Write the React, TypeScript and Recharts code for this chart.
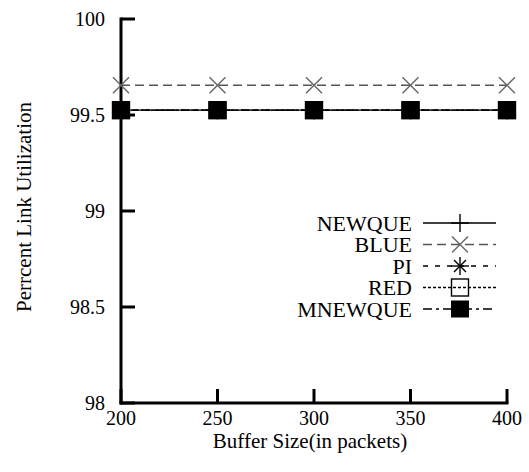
import { LineChart, Line, XAxis, YAxis, Legend, Label } from "recharts"

const bufferSizes = [200, 250, 300, 350, 400]
const newque = [99.525, 99.525, 99.525, 99.525, 99.525]
const blue = [99.655, 99.655, 99.655, 99.655, 99.655]
const pi = [99.525, 99.525, 99.525, 99.525, 99.525]
const red = [99.525, 99.525, 99.525, 99.525, 99.525]
const mnewque = [99.525, 99.525, 99.525, 99.525, 99.525]
const xTicks = [200, 250, 300, 350, 400]
const yTicks = [98, 98.5, 99, 99.5, 100]

const data = bufferSizes.map((b, i) => ({
  buffer: b,
  NEWQUE: newque[i],
  BLUE: blue[i],
  PI: pi[i],
  RED: red[i],
  MNEWQUE: mnewque[i],
}))

const FONT = "Liberation Serif"

type Kind = "plus" | "x" | "star" | "square" | "filled"

function Marker({ kind, cx, cy }: { kind: Kind; cx: number; cy: number }) {
  const h = 9
  const d = 8
  if (kind === "plus")
    return (
      <g stroke="#000" strokeWidth={1.4}>
        <line x1={cx - h} y1={cy} x2={cx + h} y2={cy} />
        <line x1={cx} y1={cy - h} x2={cx} y2={cy + h} />
      </g>
    )
  if (kind === "x")
    return (
      <g stroke="#666" strokeWidth={1.5}>
        <line x1={cx - d} y1={cy - d} x2={cx + d} y2={cy + d} />
        <line x1={cx - d} y1={cy + d} x2={cx + d} y2={cy - d} />
      </g>
    )
  if (kind === "star")
    return (
      <g stroke="#000" strokeWidth={1.4}>
        <line x1={cx - h} y1={cy} x2={cx + h} y2={cy} />
        <line x1={cx} y1={cy - h} x2={cx} y2={cy + h} />
        <line x1={cx - 6} y1={cy - 6} x2={cx + 6} y2={cy + 6} />
        <line x1={cx - 6} y1={cy + 6} x2={cx + 6} y2={cy - 6} />
      </g>
    )
  if (kind === "square")
    return <rect x={cx - 8.5} y={cy - 8.5} width={17} height={17} fill="none" stroke="#000" strokeWidth={1.4} />
  return <rect x={cx - 9} y={cy - 8.5} width={18} height={17} fill="#000" />
}

const series: { key: string; kind: Kind; color: string; dash?: string }[] = [
  { key: "NEWQUE", kind: "plus", color: "#000" },
  { key: "BLUE", kind: "x", color: "#555", dash: "9 5" },
  { key: "PI", kind: "star", color: "#000", dash: "5 7" },
  { key: "RED", kind: "square", color: "#000", dash: "3 2" },
  { key: "MNEWQUE", kind: "filled", color: "#000", dash: "9 4 3 4" },
]

const renderLegend = () => (
  <svg width={230} height={115} style={{ display: "block" }}>
    {series.map((s, i) => {
      const y = 13 + i * 21.5
      return (
        <g key={s.key}>
          <text x={122} y={y + 7.5} textAnchor="end" style={{ fontFamily: FONT, fontSize: 22 }} fill="#000">
            {s.key}
          </text>
          <line x1={133} y1={y} x2={206} y2={y} stroke={s.color} strokeWidth={1.3} strokeDasharray={s.dash} />
          <Marker kind={s.kind} cx={170} cy={y} />
        </g>
      )
    })}
  </svg>
)

const emptyTick = () => <g />

// bottom axis tick: label centred under the tick, inward tick drawn by recharts
const BottomTick = (p: any) => (
  <text x={p.x} y={p.y} textAnchor="middle" style={{ fontFamily: FONT, fontSize: 20 }} fill="#000">
    {p.payload.value}
  </text>
)

const LeftTick = (p: any) => (
  <text x={p.x} y={p.y + 7} textAnchor="end" style={{ fontFamily: FONT, fontSize: 20 }} fill="#000">
    {p.payload.value}
  </text>
)

const axisStroke = { stroke: "#000", strokeWidth: 3, strokeLinecap: "square" as const }

export default function App() {
  return (
    <div style={{ position: "absolute", left: 0, top: 0, background: "#fff" }}>
      <LineChart width={529} height={472} data={data} margin={{ top: 19, right: 22, bottom: 0, left: 0 }}>
        <XAxis
          dataKey="buffer"
          type="number"
          domain={[200, 400]}
          ticks={xTicks}
          height={69}
          axisLine={axisStroke}
          tickLine={{ stroke: "#000", strokeWidth: 3 }}
          tickSize={-14}
          tickMargin={36}
          tick={BottomTick}
          interval={0}
        >
          <Label
            content={(p: any) => (
              <text
                x={p.viewBox.x + p.viewBox.width / 2 - 4}
                y={p.viewBox.y + 45}
                textAnchor="middle"
                style={{ fontFamily: FONT, fontSize: 21 }}
                fill="#000"
              >
                Buffer Size(in packets)
              </text>
            )}
          />
        </XAxis>
        <XAxis
          xAxisId="top"
          orientation="top"
          type="number"
          domain={[200, 400]}
          ticks={xTicks}
          height={0}
          axisLine={axisStroke}
          tickLine={{ stroke: "#000", strokeWidth: 3 }}
          tickSize={-14}
          tick={emptyTick}
          interval={0}
        />
        <YAxis
          type="number"
          domain={[98, 100]}
          ticks={yTicks}
          width={121}
          axisLine={axisStroke}
          tickLine={{ stroke: "#000", strokeWidth: 3 }}
          tickSize={-14}
          tickMargin={30}
          tick={LeftTick}
          interval={0}
        >
          <Label
            content={() => (
              <text
                x={31}
                y={207}
                transform="rotate(-90, 31, 207)"
                textAnchor="middle"
                style={{ fontFamily: FONT, fontSize: 21 }}
                fill="#000"
              >
                Perrcent Link Utilization
              </text>
            )}
          />
        </YAxis>
        <YAxis
          yAxisId="right"
          orientation="right"
          type="number"
          domain={[98, 100]}
          ticks={yTicks}
          width={0}
          axisLine={axisStroke}
          tickLine={{ stroke: "#000", strokeWidth: 3 }}
          tickSize={-14}
          tick={emptyTick}
          interval={0}
        />
        {series.map((s) => (
          <Line
            key={s.key}
            dataKey={s.key}
            stroke={s.color}
            strokeWidth={1.3}
            strokeDasharray={s.dash}
            isAnimationActive={false}
            dot={(p: any) => <Marker key={`${s.key}-${p.index}`} kind={s.kind} cx={p.cx} cy={p.cy} />}
            activeDot={false}
          />
        ))}
        <Legend
          layout="horizontal"
          verticalAlign="middle"
          align="center"
          content={renderLegend}
          wrapperStyle={{ position: "absolute", left: 290, top: 210, width: 230, height: 115 }}
        />
      </LineChart>
    </div>
  )
}
